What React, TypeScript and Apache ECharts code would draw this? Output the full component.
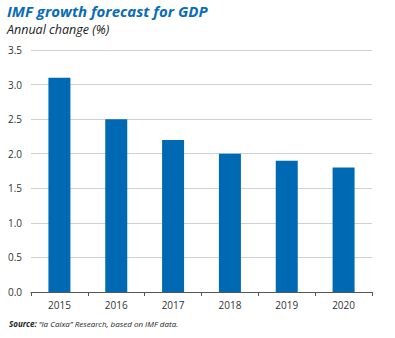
import React, { useEffect, useRef } from "react";
import * as echarts from "echarts";

const categories = ["2015", "2016", "2017", "2018", "2019", "2020"];
const gdpGrowth = [3.1, 2.5, 2.2, 2.0, 1.9, 1.8];
const yTicks = [0, 0.5, 1, 1.5, 2, 2.5, 3, 3.5];

export default function App() {
  const ref = useRef<HTMLDivElement>(null);
  useEffect(() => {
    if (!ref.current) return;
    const chart = echarts.init(ref.current, undefined, { renderer: "svg" });
    chart.setOption({
      animation: false,
      backgroundColor: "#ffffff",
      textStyle: { fontFamily: "Open Sans" },
      graphic: [
        {
          type: "text",
          left: 7,
          top: 3,
          style: {
            text: "IMF growth forecast for GDP",
            font: "italic bold 15px 'Open Sans'",
            fill: "#0a6cb5",
          },
        },
        {
          type: "text",
          left: 7,
          top: 23,
          style: {
            text: "Annual change (%)",
            font: "italic 12.5px 'Open Sans'",
            fill: "#222",
          },
        },
        {
          type: "text",
          left: 9,
          top: 319,
          style: {
            rich: {
              b: { font: "italic bold 8px 'Open Sans'", fill: "#222" },
              n: { font: "italic 8px 'Open Sans'", fill: "#222" },
            },
            text: "{b|Source:}{n| \u201cla Caixa\u201d Research, based on IMF data.}",
          },
        },
      ],
      grid: { left: 31, right: 23, top: 50, bottom: 46 },
      xAxis: {
        type: "category",
        data: categories,
        axisLine: { lineStyle: { color: "#555", width: 1 } },
        axisTick: { show: true, length: 4, lineStyle: { color: "#555" } },
        axisLabel: { color: "#333", fontSize: 10, margin: 8 },
      },
      yAxis: {
        type: "value",
        min: yTicks[0],
        max: yTicks[yTicks.length - 1],
        interval: 0.5,
        axisLine: { show: false },
        axisTick: { show: false },
        axisLabel: {
          color: "#333",
          fontSize: 10,
          margin: 9,
          formatter: (v: number) => v.toFixed(1),
        },
        splitLine: { lineStyle: { color: "#d0d0d0", width: 1 } },
      },
      series: [
        {
          type: "bar",
          data: gdpGrowth,
          barWidth: 22,
          itemStyle: { color: "#0069b4" },
        },
      ],
    });
    return () => chart.dispose();
  }, []);
  return (
    <div
      ref={ref}
      style={{ position: "absolute", left: 0, top: 0, width: 395, height: 338 }}
    />
  );
}
